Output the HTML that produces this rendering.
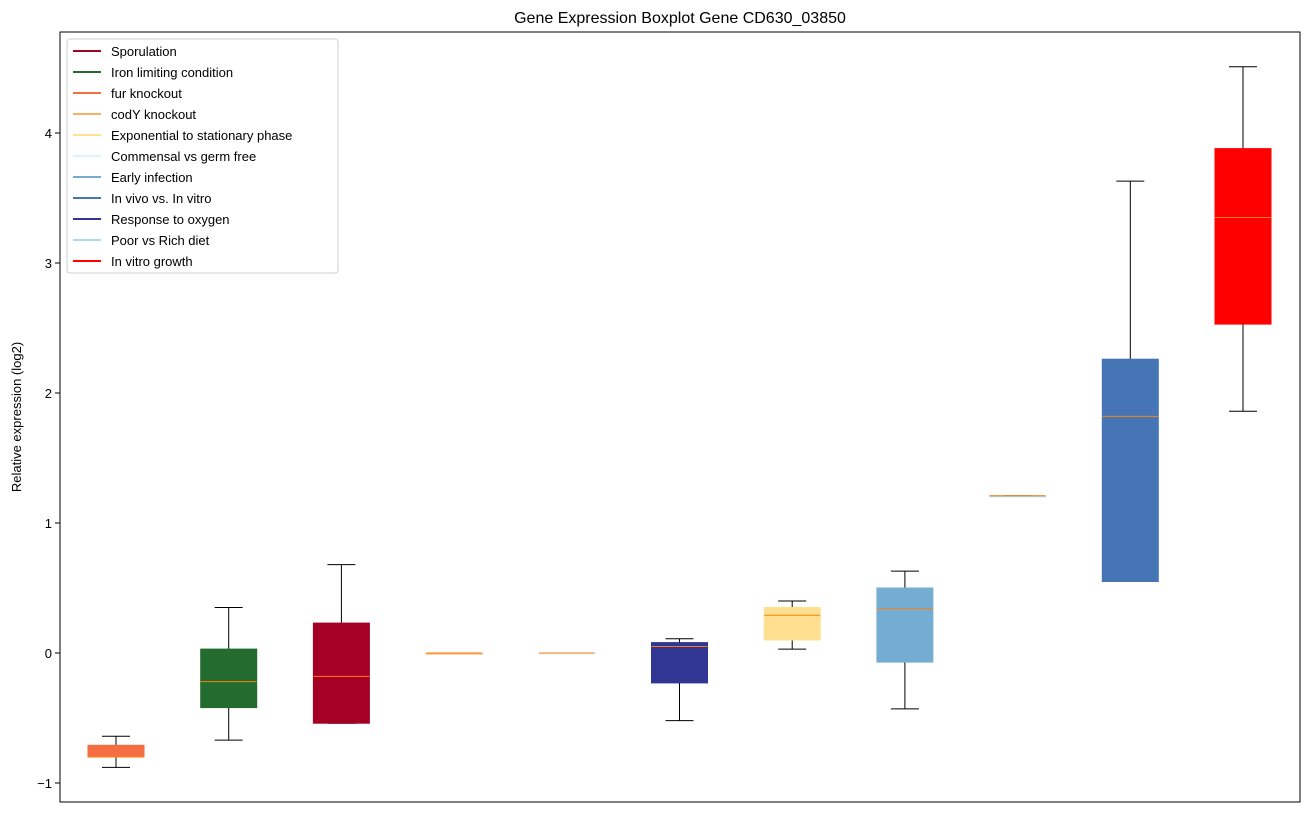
<!DOCTYPE html>
<html><head><meta charset="utf-8"><style>
body{margin:0;background:#fff;font-family:"Liberation Sans","DejaVu Sans",sans-serif;}
</style></head><body>
<svg id="c" width="1309" height="812" xmlns="http://www.w3.org/2000/svg" font-family="Liberation Sans, DejaVu Sans, sans-serif"></svg>
<script>
const categories=["fur knockout","Iron limiting condition","Sporulation","codY knockout","Commensal vs germ free","Response to oxygen","Exponential to stationary phase","Early infection","Poor vs Rich diet","In vivo vs. In vitro","In vitro growth"];
const colors=["#f46d43","#236b2e","#a50026","#fdae61","#e0f3f8","#313695","#fee090","#74add1","#abd9e9","#4575b4","#ff0000"];
const whiskerLow=[-0.88,-0.67,-0.54,0,0,-0.52,0.03,-0.43,1.21,0.55,1.86];
const q1=[-0.80,-0.42,-0.54,0,0,-0.23,0.10,-0.07,1.21,0.55,2.53];
const medians=[-0.80,-0.22,-0.18,0,0,0.05,0.29,0.34,1.21,1.82,3.35];
const q3=[-0.71,0.03,0.23,0,0,0.08,0.35,0.50,1.21,2.26,3.88];
const whiskerHigh=[-0.64,0.35,0.68,0,0,0.11,0.40,0.63,1.21,3.63,4.51];
const yTicks=[-1,0,1,2,3,4];
const legendLabels=["Sporulation","Iron limiting condition","fur knockout","codY knockout","Exponential to stationary phase","Commensal vs germ free","Early infection","In vivo vs. In vitro","Response to oxygen","Poor vs Rich diet","In vitro growth"];
const legendColors=["#a50026","#236b2e","#f46d43","#fdae61","#fee090","#e0f3f8","#74add1","#4575b4","#313695","#abd9e9","#ff0000"];

const svg=document.getElementById('c');
const NS="http://www.w3.org/2000/svg";
const L=60,R=1300,T=32,B=802;
const y=v=>653-130*v;
const x=i=>116+i*112.7;
function el(t,a,txt){const e=document.createElementNS(NS,t);for(const k in a)e.setAttribute(k,a[k]);if(txt!=null)e.textContent=txt;svg.appendChild(e);return e;}

let t=el('text',{x:680,y:23,'text-anchor':'middle','font-size':16},"Gene Expression Boxplot Gene CD630_03850");


t=el('text',{x:21,y:417,'text-anchor':'middle','font-size':13,transform:'rotate(-90 21 417)'},"Relative expression (log2)");



yTicks.forEach(v=>{
  const l=el('line',{x1:L-5,x2:L,y1:y(v),y2:y(v),stroke:'#000'});
  
  
  const tx=el('text',{x:L-8,y:y(v)+5,'text-anchor':'end','font-size':13},v<0?'\u2212'+Math.abs(v):String(v));
  
  
});

categories.forEach((c,i)=>{
  const cx=x(i),w=56,cw=28;
  const g=document.createElementNS(NS,'g');svg.appendChild(g);
  
  
  const add=(tag,a)=>{const e=document.createElementNS(NS,tag);for(const k in a)e.setAttribute(k,a[k]);g.appendChild(e);return e;};
  add('line',{x1:cx,x2:cx,y1:y(q3[i]),y2:y(whiskerHigh[i]),stroke:'#000'});
  add('line',{x1:cx,x2:cx,y1:y(q1[i]),y2:y(whiskerLow[i]),stroke:'#000'});
  add('line',{x1:cx-cw/2,x2:cx+cw/2,y1:y(whiskerHigh[i]),y2:y(whiskerHigh[i]),stroke:'#000'});
  add('line',{x1:cx-cw/2,x2:cx+cw/2,y1:y(whiskerLow[i]),y2:y(whiskerLow[i]),stroke:'#000'});
  const top=y(q3[i]),h=Math.max(1,y(q1[i])-top);
  add('rect',{x:cx-w/2,y:top,width:w,height:h,fill:colors[i],stroke:colors[i]});
  add('line',{x1:cx-w/2,x2:cx+w/2,y1:y(medians[i]),y2:y(medians[i]),stroke:'#ff7f0e','stroke-width':1});
});

const f=el('rect',{x:L,y:T,width:R-L,height:B-T,fill:'none',stroke:'#000'});



const lg=el('rect',{x:67,y:39,width:271,height:234,fill:'#fff',stroke:'#ccc',rx:3,opacity:0.9});


legendLabels.forEach((lab,i)=>{
  const yy=51+i*21;
  const ln=el('line',{x1:73,x2:101,y1:yy,y2:yy,stroke:legendColors[i],'stroke-width':2});
  
  
  const tx=el('text',{x:111,y:yy+5,'font-size':13},lab);
  
  
});
</script>
</body></html>
